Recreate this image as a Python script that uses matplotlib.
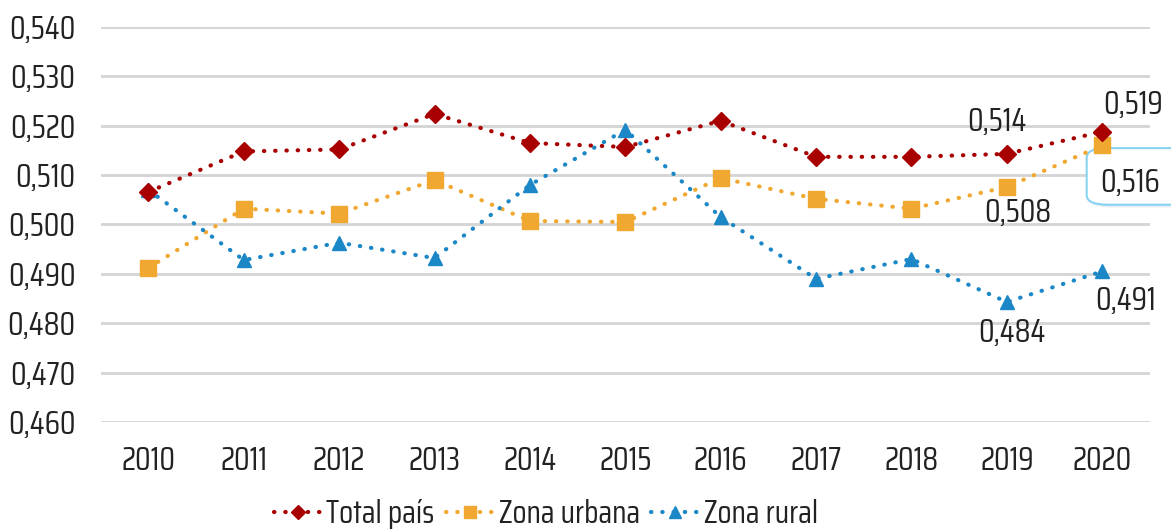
import numpy as np
import matplotlib.pyplot as plt
from matplotlib.patches import FancyBboxPatch

plt.rcParams['font.family'] = ['Saira Condensed', 'Rajdhani', 'Encode Sans Condensed', 'DejaVu Sans']

years = ["2010", "2011", "2012", "2013", "2014", "2015", "2016", "2017", "2018", "2019", "2020"]
total_pais = [0.5066, 0.5148, 0.5152, 0.5224, 0.5165, 0.5157, 0.5210, 0.5137, 0.5137, 0.5143, 0.5188]
zona_urbana = [0.4912, 0.5032, 0.5022, 0.5090, 0.5007, 0.5005, 0.5094, 0.5052, 0.5032, 0.5076, 0.5160]
zona_rural = [0.5070, 0.4928, 0.4963, 0.4932, 0.5080, 0.5192, 0.5015, 0.4890, 0.4930, 0.4843, 0.4905]
yticks = [0.46, 0.47, 0.48, 0.49, 0.50, 0.51, 0.52, 0.53, 0.54]

x = np.arange(len(years))

fig = plt.figure(figsize=(11.71, 5.29), dpi=100)
ax = fig.add_axes([0.086, 0.2023, 0.896, 0.7467])

red = '#A80000'
orange = '#F0A830'
blue = '#1B87C6'
dots = (0, (0.1, 2.6))
fs = 23

for ys, c, m, ms, lab, z in [(total_pais, red, 'D', 9, 'Total país', 4),
                             (zona_urbana, orange, 's', 11, 'Zona urbana', 3),
                             (zona_rural, blue, '^', 10, 'Zona rural', 3)]:
    ln, = ax.plot(x, ys, linestyle=dots, lw=3, color=c, marker=m, ms=ms, label=lab, zorder=z)
    ln.set_dash_capstyle('round')

ax.set_xlim(-0.5, 10.5)
ax.set_ylim(0.46, 0.54)
ax.set_yticks(yticks)
ax.set_yticklabels([f"{v:.3f}".replace('.', ',') for v in yticks])
ax.set_xticks(x)
ax.set_xticklabels(years)
ax.grid(axis='y', color='#D4D4D4', lw=2)
ax.set_axisbelow(True)
for s in ax.spines.values():
    s.set_visible(False)
ax.tick_params(length=0, labelsize=fs, colors='#222222')
ax.tick_params(axis='x', pad=17)
ax.tick_params(axis='y', pad=18)

def fmt(v):
    return f"{v:.3f}".replace('.', ',')

lab = dict(fontsize=fs, color='#222222', ha='center', va='center', textcoords='offset points',
           annotation_clip=False)
ax.annotate(fmt(0.514), (9, total_pais[9]), xytext=(-7, 23), **lab)
ax.annotate(fmt(0.519), (10, total_pais[10]), xytext=(22, 19), **lab)
ax.annotate(fmt(0.508), (9, zona_urbana[9]), xytext=(8, -19), **lab)
ax.annotate(fmt(0.484), (9, zona_rural[9]), xytext=(4, -22), **lab)
ax.annotate(fmt(0.491), (10, zona_rural[10]), xytext=(17, -21), **lab)

# callout box for the 2020 urban value, running off the right edge
shadow = FancyBboxPatch((0.930, 0.608), 0.10, 0.110, transform=fig.transFigure,
                        boxstyle='round,pad=0,rounding_size=0.018', fc='#E6EEF2',
                        ec='none', zorder=1.5, clip_on=False)
box = FancyBboxPatch((0.928, 0.613), 0.10, 0.107, transform=fig.transFigure,
                     boxstyle='round,pad=0,rounding_size=0.018', fc='white',
                     ec='#86D3F2', lw=1.5, zorder=2, clip_on=False)
ax.add_patch(shadow)
ax.add_patch(box)
ax.annotate(fmt(0.516), (10, zona_urbana[10]), xytext=(20, -27), zorder=6, **lab)

fig.legend(loc='center', bbox_to_anchor=(0.466, 0.028), ncol=3, frameon=False,
           fontsize=fs, handlelength=1.5, handletextpad=0.15, columnspacing=0.35,
           markerscale=0.8, labelcolor='#222222')

fig.savefig('out.png', dpi=100)
